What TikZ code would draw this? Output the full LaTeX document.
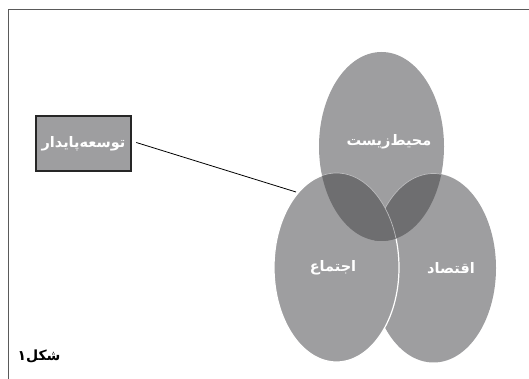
\documentclass[tikz,border=0pt]{standalone}
\usepackage{fontspec}
\newfontfamily\farsi[Script=Arabic]{DejaVu Sans}
\TeXXeTstate=1
\definecolor{lightgr}{RGB}{158,158,160}
\definecolor{darkgr}{RGB}{110,110,112}
\definecolor{framegr}{RGB}{90,90,90}
\begin{document}
\begin{tikzpicture}[x=1pt,y=1pt,
    lbl/.style={text=white,font=\farsi\bfseries\fontsize{14.5}{16}\selectfont}]
    \newcommand{\rx}{62.5}
    \newcommand{\ry}{94.5}
    \useasboundingbox (0,0) rectangle (529,379);
    % page frame
    \draw[framegr,line width=0.9pt] (8,0)--(8,370)--(529,370);
    % three circles
    \fill[lightgr] (433.5,111) ellipse ({\rx} and {\ry});
    \filldraw[fill=lightgr,draw=white,line width=1.2pt] (336.5,111.5) ellipse ({\rx} and {\ry});
    \fill[lightgr] (381.5,232.5) ellipse ({\rx} and {\ry});
    \begin{scope}
    \clip (381.5,232.5) ellipse ({\rx} and {\ry});
    \filldraw[fill=darkgr,draw=lightgr!70!white,line width=0.7pt] (433.5,111) ellipse ({\rx} and {\ry});
    \filldraw[fill=darkgr,draw=lightgr!70!white,line width=0.7pt] (336.5,111.5) ellipse ({\rx} and {\ry});
    \end{scope}
    \node[lbl] (env) at (389,237) {\beginR محیط‌زیست\endR};
    \node[lbl] (soc) at (333,111) {\beginR اجتماع\endR};
    \node[lbl] (eco) at (451,111) {\beginR اقتصاد\endR};
    % label box
    \node[lbl,fill=lightgr,draw=black!85,line width=2.5pt,minimum width=95pt,minimum height=55pt,
        inner sep=0pt] (box) at (83.5,235.5) {\beginR توسعه‌پایدار\endR};
    \coordinate (tip) at (296,187);
    \draw[line width=0.8pt] ([xshift=4pt,yshift=1pt]box.east) -- (tip);
    \node[font=\farsi\bfseries\fontsize{14}{16}\selectfont] (fig) at (39,23) {\beginR شکل۱\endR};
    %\node at (381.5,20) {};
\end{tikzpicture}
\end{document}
